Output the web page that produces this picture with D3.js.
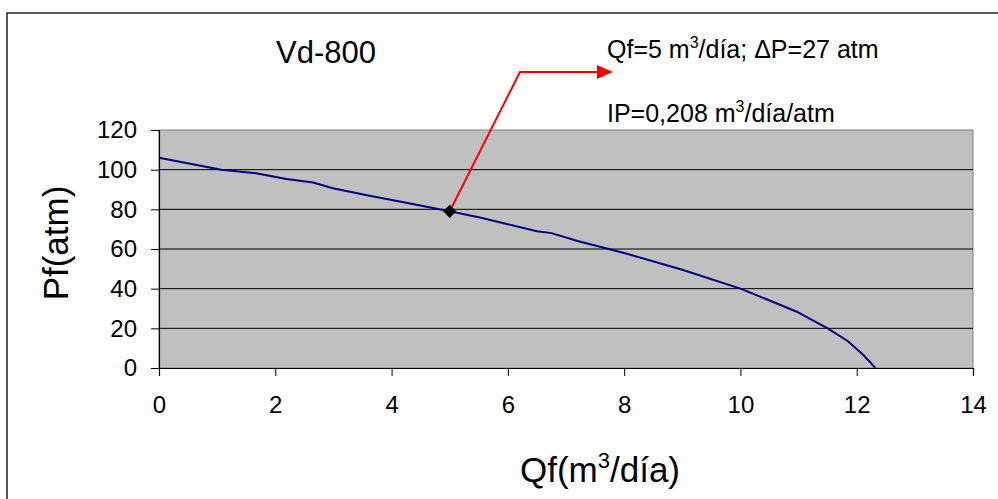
<!DOCTYPE html>
<html>
<head>
<meta charset="utf-8">
<script src="https://cdn.jsdelivr.net/npm/d3@7"></script>
<style>
  body { margin: 0; background: #fff; }
  svg { display: block; font-family: "Liberation Sans", Arial, sans-serif; }
</style>
</head>
<body>
<svg width="998" height="499"></svg>
<script>
// curve
var qf = [0, 1.07, 1.67, 2.19, 2.65, 2.99, 3.6, 4.14, 5, 5.5, 6, 6.5, 6.75, 7.2, 8, 9, 10, 10.47, 10.96, 11.5, 11.85, 12.11, 12.22, 12.32]
var pf = [106, 100, 98.2, 95.3, 93.5, 90.6, 87, 83.9, 79, 76, 72.5, 69, 68, 64, 58, 49.5, 40, 34.4, 28.5, 20, 13.5, 6.7, 3.3, 0]
var xTicks = [0, 2, 4, 6, 8, 10, 12, 14]
var yTicks = [0, 20, 40, 60, 80, 100, 120]
var opPoint = [5, 79]

var svg = d3.select("svg")
var pLeft = 159, pRight = 973, pTop = 130, pBottom = 368

var x = d3.scaleLinear().domain([0, 14]).range([pLeft, pRight])
var y = d3.scaleLinear().domain([0, 120]).range([pBottom, pTop])

// outer frame (right and bottom run off the picture)
svg.append("rect")
  .attr("x", 7).attr("y", 13).attr("width", 1100).attr("height", 600)
  .attr("fill", "none").attr("stroke", "#222").attr("stroke-width", 1.5)

// plot area
svg.append("rect")
  .attr("x", pLeft).attr("y", pTop)
  .attr("width", pRight - pLeft).attr("height", pBottom - pTop)
  .attr("fill", "#c0c0c0").attr("stroke", "#808080").attr("stroke-width", 1)

svg.append("g").selectAll("line")
  .data(yTicks.slice(1, -1))
  .enter().append("line")
  .attr("x1", pLeft).attr("x2", pRight)
  .attr("y1", d => y(d)).attr("y2", d => y(d))
  .attr("stroke", "#000").attr("stroke-width", 1)

var yAxis = svg.append("g")
  .attr("transform", `translate(${pLeft},0)`)
  .call(d3.axisLeft(y).tickValues(yTicks).tickSize(8).tickPadding(14))
var xAxis = svg.append("g")
  .attr("transform", `translate(0,${pBottom})`)
  .call(d3.axisBottom(x).tickValues(xTicks).tickSize(8).tickPadding(20))

;[yAxis, xAxis].forEach(g => {
  g.select(".domain").attr("stroke", "#000").attr("stroke-width", 1.2)
  g.selectAll(".tick line").attr("stroke", "#000")
  g.selectAll(".tick text")
    .attr("fill", "#000")
    .style("font-size", "24px")
    .style("font-family", "'Liberation Sans', Arial, sans-serif")
})

// curve
svg.append("path")
  .datum(d3.zip(qf, pf))
  .attr("fill", "none")
  .attr("stroke", "#000080")
  .attr("stroke-width", 2)
  .attr("d", d3.line().x(d => x(d[0])).y(d => y(d[1])))

// arrow annotation
svg.append("defs").append("marker")
  .attr("id", "head")
  .attr("viewBox", "0 0 16 14")
  .attr("refX", 0).attr("refY", 7)
  .attr("markerWidth", 16).attr("markerHeight", 14)
  .attr("markerUnits", "userSpaceOnUse")
  .attr("orient", "auto")
  .append("path").attr("d", "M0,0L16,7L0,14Z").attr("fill", "#ff0000")

svg.append("path")
  .attr("d", `M${x(opPoint[0])},${y(opPoint[1])}L520,72L597,72`)
  .attr("fill", "none").attr("stroke", "#ff0000").attr("stroke-width", 2)
  .attr("marker-end", "url(#head)")

svg.append("path")
  .attr("transform", `translate(${x(opPoint[0])},${y(opPoint[1])})`)
  .attr("d", d3.symbol(d3.symbolDiamond2, 110)())
  .attr("fill", "#000")

// texts, "^" marks a superscript piece
function withSup(t, fs, parts) {
  var up = Math.round(fs * 0.4)
  parts.forEach(p => {
    if (p[0] == "^") {
      t.append("tspan").attr("dy", -up).style("font-size", Math.round(fs * 0.62) + "px").text(p.slice(1))
    } else {
      var s = t.append("tspan").text(p)
      if (t.selectAll("tspan").size() > 1) s.attr("dy", up)
    }
  })
}

svg.append("text")
  .attr("x", 326).attr("y", 63)
  .attr("text-anchor", "middle")
  .style("font-size", "31px")
  .text("Vd-800")

var t1 = svg.append("text").attr("x", 607).attr("y", 58).style("font-size", "25px")
withSup(t1, 25, ["Qf=5 m", "^3", "/día; ΔP=27 atm"])

var t2 = svg.append("text").attr("x", 607).attr("y", 122).style("font-size", "25px")
withSup(t2, 25, ["IP=0,208 m", "^3", "/día/atm"])

var xt = svg.append("text").attr("x", 600).attr("y", 482)
  .attr("text-anchor", "middle").style("font-size", "35px")
withSup(xt, 35, ["Qf(m", "^3", "/día)"])

svg.append("text")
  .attr("transform", "translate(68,243) rotate(-90)")
  .attr("text-anchor", "middle")
  .style("font-size", "35px")
  .text("Pf(atm)")
</script>
</body>
</html>
